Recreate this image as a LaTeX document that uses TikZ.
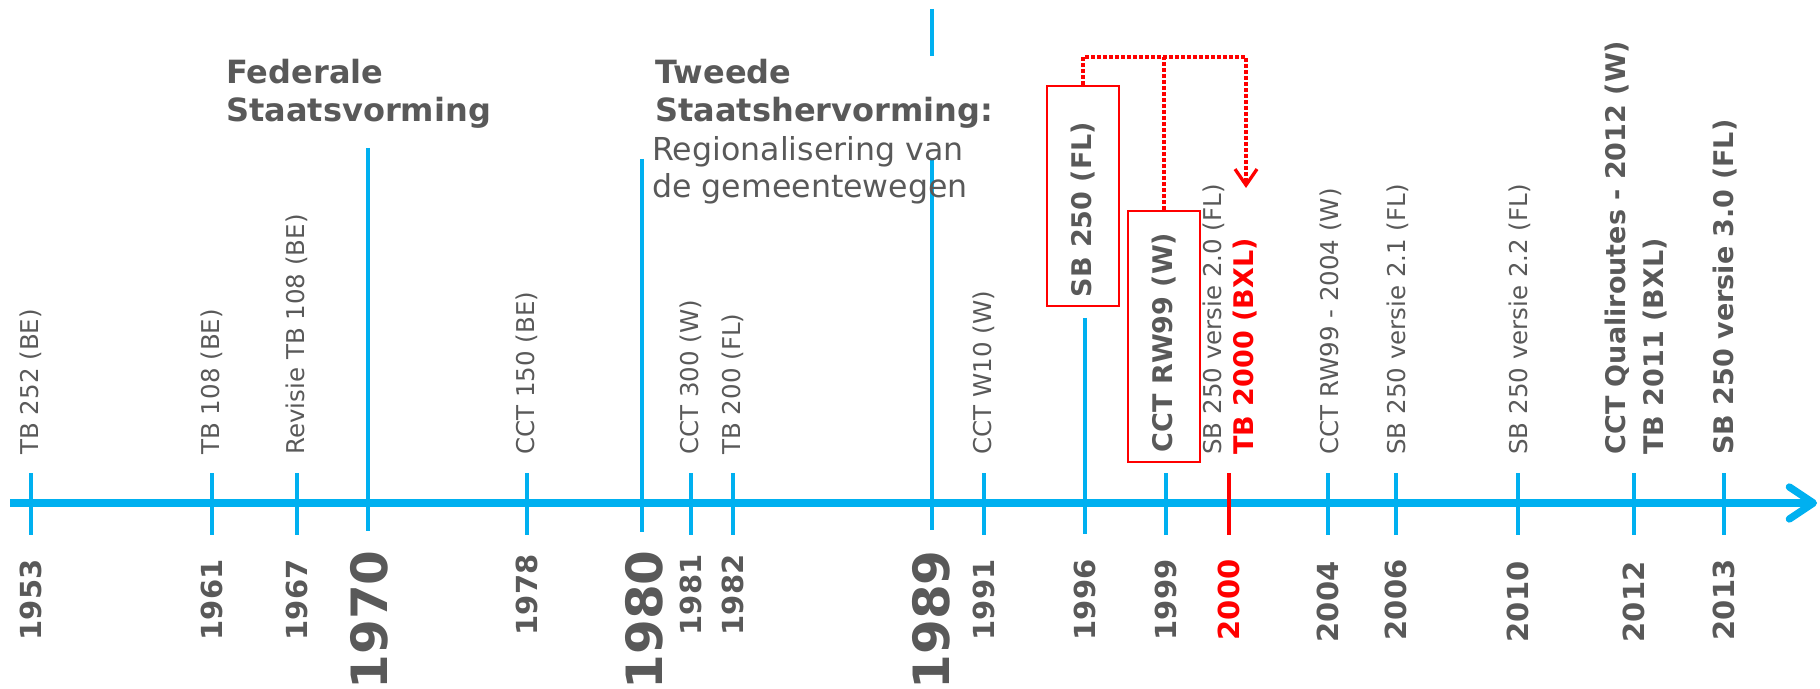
\documentclass[tikz,border=0pt]{standalone}
\usepackage{fontspec}
\setmainfont{DejaVu Sans}
\usetikzlibrary{arrows.meta}
\definecolor{tlblue}{HTML}{00B0F0}
\definecolor{tlgray}{HTML}{595959}
\definecolor{tlred}{HTML}{FF0000}
\begin{document}
\begin{tikzpicture}[x=0.5pt,y=-0.5pt,
  axisline/.style={tlblue, line width=3.65pt},
  tickline/.style={tlblue, line width=1.65pt},
  redtick/.style={tlred, line width=1.65pt},
  yearlbl/.style={rotate=90, anchor=center, inner sep=0pt, text=tlgray, font=\fontsize{14.5}{17}\selectfont\bfseries},
  bigyear/.style={rotate=90, anchor=east, inner sep=0pt, text=tlgray, font=\fontsize{25}{29}\selectfont\bfseries},
  evlbl/.style={rotate=90, anchor=west, inner sep=0pt, text=tlgray, font=\fontsize{12.25}{15}\selectfont},
  evbold/.style={rotate=90, anchor=west, inner sep=0pt, text=tlgray, font=\fontsize{13.5}{16}\selectfont\bfseries},
  redbox/.style={rotate=90, draw=tlred, line width=1pt, inner sep=0pt, text=tlgray, font=\fontsize{13.5}{16}\selectfont\bfseries, minimum height=36pt},
  headbold/.style={anchor=north west, inner sep=0pt, align=left, text=tlgray, font=\fontsize{16}{19}\selectfont\bfseries},
  headreg/.style={anchor=north west, inner sep=0pt, align=left, text=tlgray, font=\fontsize{15.8}{18.5}\selectfont},
  linkline/.style={tlred, line width=1.65pt, dash pattern=on 1.8pt off 1.2pt},
]
\useasboundingbox (0,0) rectangle (1820,689);

% axis
\coordinate (axstart) at (10,503);
\coordinate (axend) at (1817,503);
\draw[axisline, -{Straight Barb[length=12pt,width=16pt,round]}] (axstart) -- (axend);

% short ticks
\foreach \x in {31,212,297,527,691,733,984,1166,1328,1396,1518,1634,1724}
  \draw[tickline] (\x,473) -- (\x,535);
\draw[redtick] (1229,473) -- (1229,535);
% long lines
\draw[tickline] (368,148) -- (368,531);
\draw[tickline] (642,159) -- (642,532);
\draw[tickline] (932,160) -- (932,530);
\draw[tickline] (932,9) -- (932,56);
\draw[tickline] (1085,318) -- (1085,534);

% years
\node[yearlbl] (y1953) at (31,600) {1953};
\node[yearlbl] (y1961) at (212,600) {1961};
\node[yearlbl] (y1967) at (297,600) {1967};
\node[bigyear] (y1970) at (369,550) {1970};
\node[yearlbl] (y1978) at (527,595) {1978};
\node[bigyear] (y1980) at (644,550) {1980};
\node[yearlbl] (y1981) at (691,595) {1981};
\node[yearlbl] (y1982) at (733,595) {1982};
\node[bigyear] (y1989) at (931,550) {1989};
\node[yearlbl] (y1991) at (984,600) {1991};
\node[yearlbl] (y1996) at (1085,600) {1996};
\node[yearlbl] (y1999) at (1166,600) {1999};
\node[yearlbl, text=tlred] (y2000) at (1229,600) {2000};
\node[yearlbl] (y2004) at (1328,602) {2004};
\node[yearlbl] (y2006) at (1396,600) {2006};
\node[yearlbl] (y2010) at (1518,602) {2010};
\node[yearlbl] (y2012) at (1634,602) {2012};
\node[yearlbl] (y2013) at (1724,600) {2013};

% events
\node[evlbl] (e1953) at (31,455) {TB 252 (BE)};
\node[evlbl] (e1961) at (212,455) {TB 108 (BE)};
\node[evlbl] (e1967) at (297,455) {Revisie TB 108 (BE)};
\node[evlbl] (e1978) at (527,455) {CCT 150 (BE)};
\node[evlbl] (e1981) at (691,455) {CCT 300 (W)};
\node[evlbl] (e1982) at (733,455) {TB 200 (FL)};
\node[evlbl] (e1991) at (984,455) {CCT W10 (W)};
\node[evlbl] (e2000a) at (1214,455) {SB 250 versie 2.0 (FL)};
\node[evbold, text=tlred] (e2000b) at (1245,455) {TB 2000 (BXL)};
\node[evlbl] (e2004) at (1331,455) {CCT RW99 - 2004 (W)};
\node[evlbl] (e2006) at (1398,455) {SB 250 versie 2.1 (FL)};
\node[evlbl] (e2010) at (1520,455) {SB 250 versie 2.2 (FL)};
\node[evbold] (e2012a) at (1617,455) {CCT Qualiroutes - 2012 (W)};
\node[evbold] (e2012b) at (1655,455) {TB 2011 (BXL)};
\node[evbold] (e2013) at (1725,455) {SB 250 versie 3.0 (FL)};

% boxed events
\node[redbox, minimum width=110pt] (sb) at (1083,196) {SB 250 (FL)\hspace*{13.5pt}};
\node[redbox, minimum width=125.5pt] (cct) at (1164,336.5) {CCT RW99 (W)\hspace*{6pt}};

% dotted link
\coordinate (linktop) at (1246,57);
\coordinate (linkend) at (1246,188);
\draw[linkline, -{Straight Barb[length=8pt,width=11pt]}] (sb.east) |- (linktop) -- (linkend);
\draw[linkline] (cct.east) -- (cct.east |- linktop);

% headings
\node[headbold] (fed) at (226,59) {Federale\\Staatsvorming};
\node[headbold] (tweede) at (655,59) {Tweede\\Staatshervorming:};
\node[headreg] (regio) at (652,136) {Regionalisering van\\de gemeentewegen};
\end{tikzpicture}
\end{document}
